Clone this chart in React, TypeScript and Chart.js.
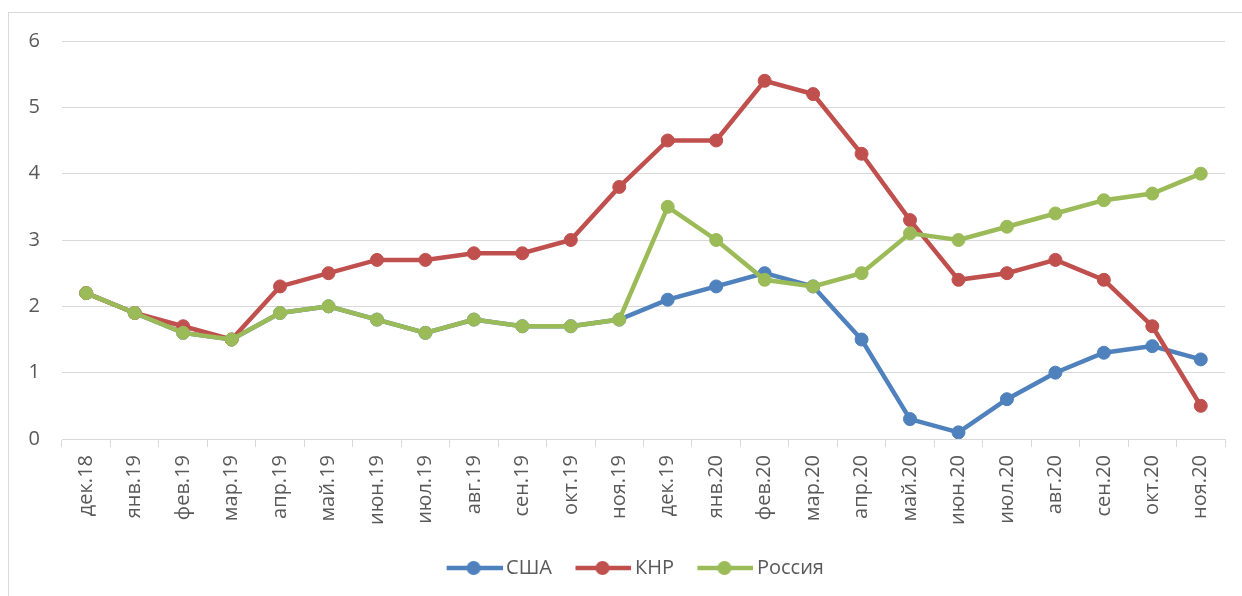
import React, { useEffect, useRef } from "react";
import { Chart, registerables } from "chart.js";

Chart.register(...registerables);

const categories = [
  "дек.18", "янв.19", "фев.19", "мар.19", "апр.19", "май.19", "июн.19", "июл.19",
  "авг.19", "сен.19", "окт.19", "ноя.19", "дек.19", "янв.20", "фев.20", "мар.20",
  "апр.20", "май.20", "июн.20", "июл.20", "авг.20", "сен.20", "окт.20", "ноя.20",
];
const usaValues = [2.2, 1.9, 1.6, 1.5, 1.9, 2.0, 1.8, 1.6, 1.8, 1.7, 1.7, 1.8, 2.1, 2.3, 2.5, 2.3, 1.5, 0.3, 0.1, 0.6, 1.0, 1.3, 1.4, 1.2];
const chinaValues = [2.2, 1.9, 1.7, 1.5, 2.3, 2.5, 2.7, 2.7, 2.8, 2.8, 3.0, 3.8, 4.5, 4.5, 5.4, 5.2, 4.3, 3.3, 2.4, 2.5, 2.7, 2.4, 1.7, 0.5];
const russiaValues = [2.2, 1.9, 1.6, 1.5, 1.9, 2.0, 1.8, 1.6, 1.8, 1.7, 1.7, 1.8, 3.5, 3.0, 2.4, 2.3, 2.5, 3.1, 3.0, 3.2, 3.4, 3.6, 3.7, 4.0];
const seriesNames = ["США", "КНР", "Россия"];
const seriesColors = ["#4F81BD", "#C0504D", "#9BBB59"];
const yMin = 0;
const yMax = 6;
const yStep = 1;

const FONT = "'Open Sans', 'Liberation Sans', sans-serif";
const TEXT_COLOR = "#595959";
const GRID_COLOR = "#D9D9D9";

function makeLegendImage(color: string) {
  const c = document.createElement("canvas");
  c.width = 63;
  c.height = 18;
  const ctx = c.getContext("2d")!;
  ctx.strokeStyle = color;
  ctx.lineWidth = 4.5;
  ctx.beginPath();
  ctx.moveTo(7, 9);
  ctx.lineTo(63, 9);
  ctx.stroke();
  ctx.fillStyle = color;
  ctx.beginPath();
  ctx.arc(34, 9, 7, 0, Math.PI * 2);
  ctx.fill();
  return c;
}

const legendShift = {
  id: "legendShift",
  afterLayout(chart: any) {
    const lg = chart.legend;
    if (lg) {
      lg.left += 18;
      lg.right += 18;
    }
  },
};

export default function App() {
  const canvasRef = useRef<HTMLCanvasElement | null>(null);

  useEffect(() => {
    document.body.style.overflow = "hidden";
    const canvas = canvasRef.current;
    if (!canvas) return;
    const seriesValues = [usaValues, chinaValues, russiaValues];
    const images = seriesColors.map((c) => makeLegendImage(c));
    const chart = new Chart(canvas, {
      type: "line",
      data: {
        labels: categories,
        datasets: seriesNames.map((name, i) => ({
          label: name,
          data: seriesValues[i],
          borderColor: seriesColors[i],
          backgroundColor: seriesColors[i],
          pointBackgroundColor: seriesColors[i],
          pointBorderColor: seriesColors[i],
          borderWidth: 4.5,
          pointRadius: 6.5,
          pointBorderWidth: 1,
          tension: 0,
          fill: false,
          order: 3 - i,
        })),
      },
      plugins: [legendShift],
      options: {
        animation: false,
        responsive: false,
        maintainAspectRatio: false,
        layout: { padding: { left: 0, right: 24, top: 28, bottom: 15 } },
        plugins: {
          tooltip: { enabled: false },
          legend: {
            display: true,
            position: "bottom",
            labels: {
              usePointStyle: true,
              pointStyleWidth: 50,
              padding: 23,
              color: TEXT_COLOR,
              font: { family: FONT, size: 20 },
              generateLabels: () =>
                seriesNames.map((name, i) => ({
                  text: name,
                  fillStyle: seriesColors[i],
                  strokeStyle: seriesColors[i],
                  lineWidth: 0,
                  pointStyle: images[i] as any,
                  hidden: false,
                  datasetIndex: i,
                  fontColor: TEXT_COLOR,
                })),
            },
          },
        },
        scales: {
          x: {
            offset: true,
            grid: {
              display: true,
              offset: true,
              drawOnChartArea: false,
              drawTicks: true,
              tickLength: 8,
              color: GRID_COLOR,
            },
            border: { display: true, color: GRID_COLOR, width: 1 },
            ticks: {
              autoSkip: false,
              minRotation: 90,
              maxRotation: 90,
              padding: 8,
              color: TEXT_COLOR,
              font: { family: FONT, size: 20 },
            },
            afterFit: (scale: any) => {
              scale.height = 96;
            },
          },
          y: {
            min: yMin,
            max: yMax,
            ticks: {
              stepSize: yStep,
              padding: 22,
              color: TEXT_COLOR,
              font: { family: FONT, size: 20 },
            },
            grid: { color: GRID_COLOR, drawTicks: false, lineWidth: 1 },
            border: { display: false },
            afterFit: (scale: any) => {
              scale.width = 53;
              scale.paddingTop = 12;
              scale.paddingBottom = 12;
            },
          },
        },
      },
    });
    return () => chart.destroy();
  }, []);

  return (
    <div
      style={{
        position: "absolute",
        left: 8,
        top: 12,
        width: 1240,
        height: 590,
        border: "1px solid #D9D9D9",
        background: "#fff",
      }}
    >
      <canvas ref={canvasRef} width={1240} height={590} style={{ display: "block", width: 1240, height: 590 }} />
    </div>
  );
}
